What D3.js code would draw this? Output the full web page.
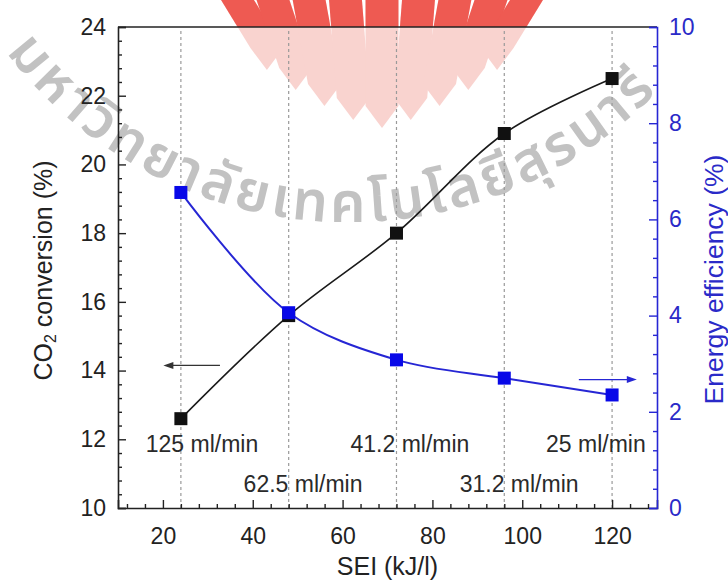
<!DOCTYPE html>
<html>
<head>
<meta charset="utf-8">
<script src="https://cdn.jsdelivr.net/npm/d3@7"></script>
<style>
  html, body { margin: 0; padding: 0; background: #fff; }
  svg { display: block; font-family: "Liberation Sans", Arial, sans-serif; }
</style>
</head>
<body>
<svg id="chart" width="728" height="583"></svg>
<script>
// ---------- data ----------
const sei = [24, 48, 72, 96, 120];                       // kJ/l
const co2Conversion = [12.6, 15.6, 18.0, 20.9, 22.5];    // %
const energyEfficiency = [6.56, 4.06, 3.08, 2.70, 2.35]; // %
const flowLabels = ["125 ml/min", "62.5 ml/min", "41.2 ml/min", "31.2 ml/min", "25 ml/min"];
// annotation anchors in data units (SEI, CO2 %)
const flowLabelSEI = [28.7, 51.2, 75.0, 99.3, 116.4];
const flowLabelCO2 = [11.63, 10.47, 11.63, 10.47, 11.63];
const xTicks = [20, 40, 60, 80, 100, 120];
const yLeftTicks = [10, 12, 14, 16, 18, 20, 22, 24];
const yRightTicks = [0, 2, 4, 6, 8, 10];
const watermarkText = "มหาวิทยาลัยเทคโนโลยีสุรนารี";

// ---------- layout ----------
const svg = d3.select("#chart");
const L = 118, R = 657, T = 27, B = 508;
const x = d3.scaleLinear().domain([10, 130]).range([L, R]);
const yL = d3.scaleLinear().domain([10, 24]).range([B, T]);
const yR = d3.scaleLinear().domain([0, 10]).range([B, T]);
const BLUE = "#2626d4";
const BLUE_TXT = "#2a2ac8";

svg.append("rect").attr("width", 728).attr("height", 583).attr("fill", "#fff");

// ---------- watermark logo (fan of pointed bands) ----------
const logo = svg.append("g");
const nb = 9, lx0 = 216, lx1 = 548, bw = (lx1 - lx0) / nb;
const tipDepth = [70, 90, 106, 120, 128, 120, 106, 90, 70];
const cxLogo = (lx0 + lx1) / 2;
function bandPath(i) {
  const a = lx0 + i * bw + 2, b = a + bw - 4;
  const d = tipDepth[i];
  const shift = (cxLogo - (a + b) / 2) * 0.22;
  const a2 = a + shift, b2 = b + shift, m = (a2 + b2) / 2;
  return `M${a},-5 L${b},-5 L${b2},${d - 22} L${m},${d} L${a2},${d - 22} Z`;
}
const defs = svg.append("defs");
defs.append("clipPath").attr("id", "topClip").append("rect")
  .attr("x", 0).attr("y", -10).attr("width", 728).attr("height", T + 10);
logo.selectAll("path.pink").data(d3.range(nb)).join("path")
  .attr("d", bandPath).attr("fill", "#f9d3cf");
logo.append("g").attr("clip-path", "url(#topClip)")
  .selectAll("path").data(d3.range(nb)).join("path")
  .attr("d", bandPath).attr("fill", "#ee5a52");

// ---------- watermark text on an arc ----------
defs.append("path").attr("id", "wmArc")
  .attr("d", "M 6,52 A 430 430 0 0 0 700,40");
svg.append("text")
  .attr("font-family", "'Noto Sans Thai','Noto Sans','DejaVu Sans',sans-serif")
  .attr("font-size", 56).attr("font-weight", 600)
  .attr("fill", "#9a9a9a").attr("opacity", 0.6)
  .append("textPath").attr("href", "#wmArc").attr("startOffset", 0)
  .attr("textLength", 740)
  .text(watermarkText);

// ---------- dashed guide lines ----------
svg.append("g").selectAll("line").data(sei).join("line")
  .attr("x1", d => x(d)).attr("x2", d => x(d))
  .attr("y1", T + 4).attr("y2", B)
  .attr("stroke", "#9a9a9a").attr("stroke-width", 1.2)
  .attr("stroke-dasharray", "3,3");

// ---------- axes ----------
const minorX = d3.range(12, 130, 4).filter(v => v % 20 !== 0);
const minorYL = d3.range(10, 24.001, 0.4).map(v => +v.toFixed(1)).filter(v => Math.abs(v / 2 - Math.round(v / 2)) > 1e-6);
const minorYR = d3.range(0, 10.001, 0.4).map(v => +v.toFixed(1)).filter(v => Math.abs(v / 2 - Math.round(v / 2)) > 1e-6);

// top line
svg.append("line").attr("x1", L).attr("x2", R).attr("y1", T).attr("y2", T)
  .attr("stroke", "#222").attr("stroke-width", 1.5);

// bottom axis
const gx = svg.append("g").attr("transform", `translate(0,${B})`)
  .call(d3.axisBottom(x).tickValues(xTicks).tickSize(-8).tickPadding(20).tickFormat(d3.format("d")));
gx.append("g").call(d3.axisBottom(x).tickValues(minorX).tickSize(-4).tickFormat(""));
gx.selectAll(".domain").attr("stroke", "#222").attr("stroke-width", 1.6);
gx.selectAll(".tick line").attr("stroke", "#222").attr("stroke-width", 1.4);
gx.selectAll(".tick text").attr("font-size", 23).attr("fill", "#222")
  .attr("font-family", "'Liberation Sans', Arial, sans-serif");
gx.selectAll("g g .domain").remove();

// left axis
const gl = svg.append("g").attr("transform", `translate(${L},0)`)
  .call(d3.axisLeft(yL).tickValues(yLeftTicks).tickSize(-8).tickPadding(12).tickFormat(d3.format("d")));
gl.append("g").call(d3.axisLeft(yL).tickValues(minorYL).tickSize(-4).tickFormat(""));
gl.selectAll(".domain").attr("stroke", "#222").attr("stroke-width", 1.6);
gl.selectAll(".tick line").attr("stroke", "#222").attr("stroke-width", 1.4);
gl.selectAll(".tick text").attr("font-size", 23).attr("fill", "#222")
  .attr("font-family", "'Liberation Sans', Arial, sans-serif");
gl.selectAll("g g .domain").remove();

// right axis
const gr = svg.append("g").attr("transform", `translate(${R},0)`)
  .call(d3.axisRight(yR).tickValues(yRightTicks).tickSize(-8).tickPadding(12).tickFormat(d3.format("d")));
gr.append("g").call(d3.axisRight(yR).tickValues(minorYR).tickSize(-4).tickFormat(""));
gr.selectAll(".domain").attr("stroke", BLUE).attr("stroke-width", 1.6);
gr.selectAll(".tick line").attr("stroke", BLUE).attr("stroke-width", 1.4);
gr.selectAll(".tick text").attr("font-size", 23).attr("fill", BLUE_TXT)
  .attr("font-family", "'Liberation Sans', Arial, sans-serif");
gr.selectAll("g g .domain").remove();

// ---------- axis titles ----------
svg.append("text").attr("x", x(70)).attr("y", 575).attr("text-anchor", "middle")
  .attr("font-size", 25).attr("fill", "#222").text("SEI (kJ/l)");

const tl = svg.append("text")
  .attr("transform", `translate(52,${(T + B) / 2 + 3}) rotate(-90)`)
  .attr("text-anchor", "middle").attr("font-size", 25).attr("fill", "#222");
tl.append("tspan").text("CO");
tl.append("tspan").attr("font-size", 16).attr("dy", 4).text("2");
tl.append("tspan").attr("dy", -4).text(" conversion (%)");

svg.append("text")
  .attr("transform", `translate(723,${(T + B) / 2 + 12}) rotate(-90)`)
  .attr("text-anchor", "middle").attr("font-size", 26.5).attr("fill", BLUE_TXT)
  .text("Energy efficiency (%)");

// ---------- flow labels ----------
svg.append("g").selectAll("text").data(flowLabels).join("text")
  .attr("x", (d, i) => x(flowLabelSEI[i]))
  .attr("y", (d, i) => yL(flowLabelCO2[i]))
  .attr("text-anchor", "middle").attr("font-size", 23).attr("fill", "#2a2a2a")
  .text(d => d);

// ---------- curves ----------
const blackLine = d3.line().curve(d3.curveCatmullRom.alpha(0.5))
  .x((d, i) => x(sei[i])).y(d => yL(d));
const blueLine = d3.line().curve(d3.curveCatmullRom.alpha(0.5))
  .x((d, i) => x(sei[i])).y(d => yR(d));

svg.append("path").attr("d", blackLine(co2Conversion))
  .attr("fill", "none").attr("stroke", "#1a1a1a").attr("stroke-width", 1.6);
svg.append("g").selectAll("rect").data(co2Conversion).join("rect")
  .attr("x", (d, i) => x(sei[i]) - 6.5).attr("y", d => yL(d) - 6.5)
  .attr("width", 13).attr("height", 13).attr("fill", "#111");

svg.append("path").attr("d", blueLine(energyEfficiency))
  .attr("fill", "none").attr("stroke", BLUE).attr("stroke-width", 2);
svg.append("g").selectAll("rect").data(energyEfficiency).join("rect")
  .attr("x", (d, i) => x(sei[i]) - 6.5).attr("y", d => yR(d) - 6.5)
  .attr("width", 13).attr("height", 13).attr("fill", "#0808e8");

// ---------- axis indicator arrows ----------
function arrow(x1, x2, yy, color) {
  const dir = Math.sign(x2 - x1);
  svg.append("line").attr("x1", x1).attr("x2", x2 - dir * 8).attr("y1", yy).attr("y2", yy)
    .attr("stroke", color).attr("stroke-width", 1.3);
  svg.append("path")
    .attr("d", `M${x2},${yy} L${x2 - dir * 10},${yy - 3.5} L${x2 - dir * 10},${yy + 3.5} Z`)
    .attr("fill", color);
}
arrow(x(32.7), x(20.1), yL(14.15), "#333");
arrow(x(112.6), x(125.5), yR(2.67), BLUE);
</script>
</body>
</html>
